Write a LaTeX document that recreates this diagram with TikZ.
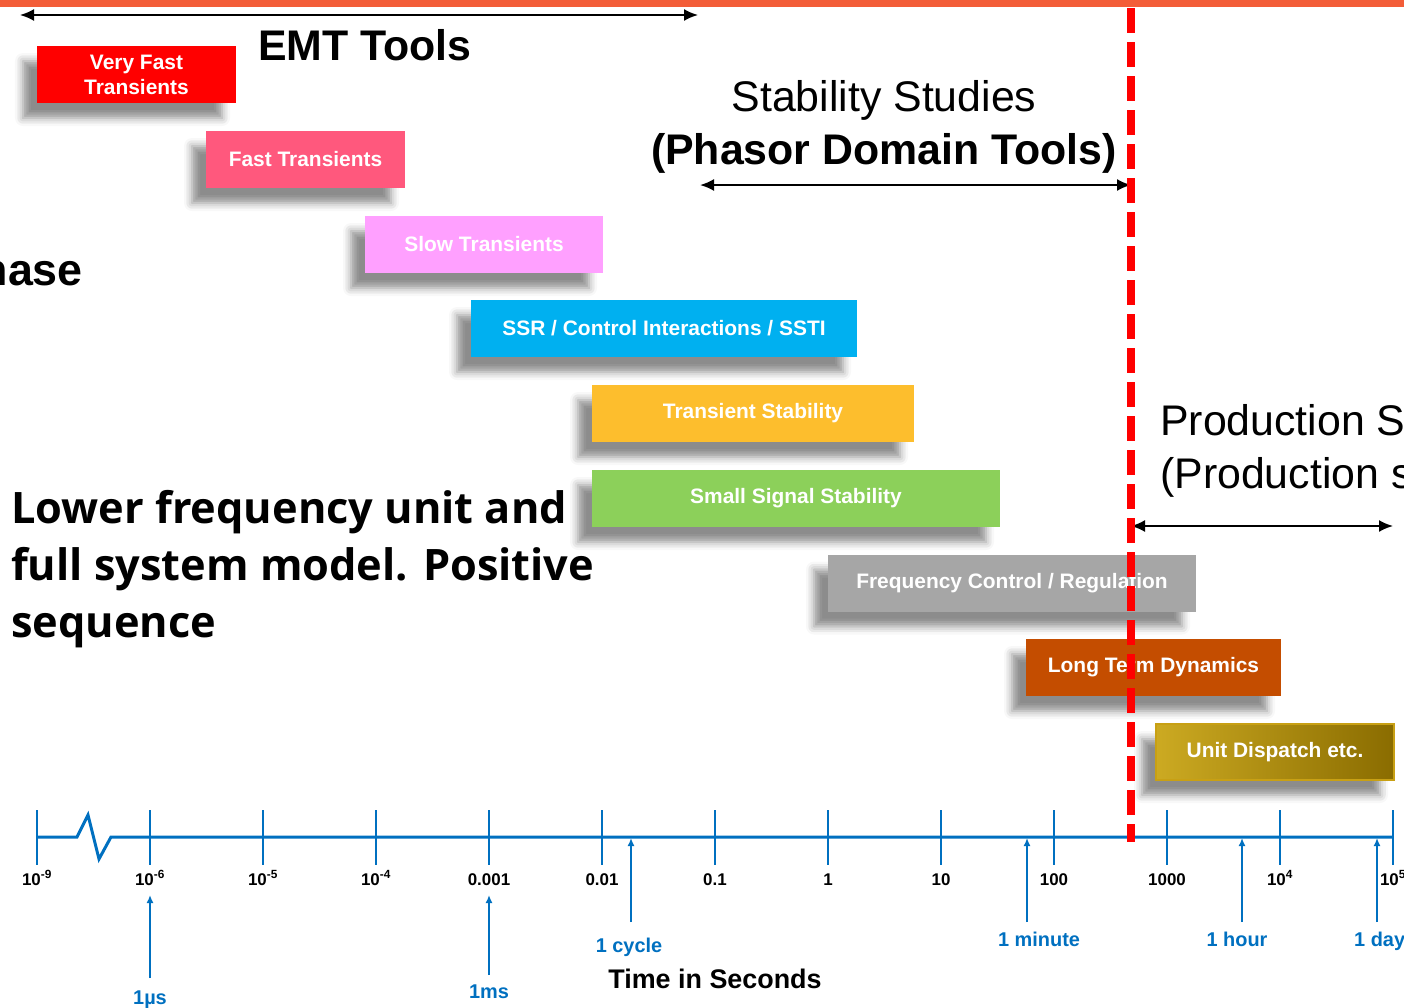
\documentclass[tikz,border=0pt]{standalone}
\usepackage{fontspec}
\setmainfont{Liberation Sans}
\newfontfamily\lowfont{Open Sans}
\usetikzlibrary{arrows.meta,shadows.blur}
\definecolor{axisblue}{RGB}{0,112,192}
\definecolor{topbar}{RGB}{243,93,56}
\definecolor{cVF}{RGB}{255,0,0}
\definecolor{cFT}{RGB}{255,88,125}
\definecolor{cST}{RGB}{255,160,255}
\definecolor{cSSR}{RGB}{0,176,240}
\definecolor{cTS}{RGB}{253,190,45}
\definecolor{cSSS}{RGB}{140,208,90}
\definecolor{cFC}{RGB}{166,166,166}
\definecolor{cLT}{RGB}{196,77,0}
\definecolor{cUDa}{RGB}{204,170,34}
\definecolor{cUDb}{RGB}{138,108,0}
\definecolor{cUDedge}{RGB}{200,160,20}
\begin{document}
\begin{tikzpicture}[x=1bp,y=-1bp,
  bar/.style={minimum height=57bp, inner sep=0pt, text=white, align=center,
    font=\fontsize{21}{25}\selectfont\bfseries,
    blur shadow={shadow xshift=-14bp, shadow yshift=-15bp, shadow blur radius=8bp, shadow opacity=45}},
  big/.style={inner sep=0pt, font=\fontsize{43}{53}\selectfont},
  lowtxt/.style={inner sep=0pt, anchor=base west, font=\lowfont\bfseries\fontsize{43.5}{57}\selectfont},
  ticklbl/.style={inner sep=0pt, anchor=base, font=\fontsize{17}{20}\selectfont\bfseries},
  bluelbl/.style={inner sep=0pt, anchor=base, text=axisblue, font=\fontsize{20}{24}\selectfont\bfseries},
  span/.style={{Latex[length=14bp,width=12bp]}-{Latex[length=14bp,width=12bp]}, line width=2bp, black},
  marker/.style={-{Latex[length=8bp,width=7bp]}, line width=2bp, axisblue},
  axisline/.style={line width=3bp, axisblue, line join=miter},
  tick/.style={line width=2.5bp, axisblue},
  divider/.style={line width=8bp, red, dash pattern=on 25bp off 9bp}
]
\useasboundingbox (0,0) rectangle (1404,1007);
\clip (0,0) rectangle (1404,1007);
\fill[topbar] (0,0) rectangle (1404,6.5);

% boxes
\node[bar, fill=cVF, minimum width=199bp] (vf) at (136.5,74.5) {Very Fast\\Transients};
\node[bar, fill=cFT, minimum width=199bp] (ft) at (305.5,159.5) {Fast Transients};
\node[bar, fill=cST, minimum width=238bp] (st) at (484,244.5) {Slow Transients};
\node[bar, fill=cSSR, minimum width=386bp] (ssr) at (664,328.5) {SSR / Control Interactions / SSTI};
\node[bar, fill=cTS, minimum width=322bp] (ts) at (753,413.5) {Transient Stability};
\node[bar, fill=cSSS, minimum width=408bp] (sss) at (796,498.5) {Small Signal Stability};
\node[bar, fill=cFC, minimum width=368bp] (fc) at (1012,583) {Frequency Control / Regulation};
\node[bar, fill=cLT, minimum width=255bp] (lt) at (1153.5,667.5) {Long Term Dynamics};
\node[bar, left color=cUDa, right color=cUDb, draw=cUDedge, line width=1.5bp, minimum width=238bp, minimum height=56bp] (ud) at (1275,752) {Unit Dispatch etc.};

% headings
\node[big, anchor=base west, font=\fontsize{43}{53}\selectfont\bfseries] (emt) at (258,60) {EMT Tools};
\node[big, anchor=base] (stab1) at (884,111) {Stability Studies};
\node[big, anchor=base, font=\fontsize{43}{53}\selectfont\bfseries] (stab2) at (884,164) {(Phasor Domain Tools)};
\node[big, anchor=base west] (prod1) at (1160,435) {Production S};
\node[big, anchor=base west] (prod2) at (1160,488) {(Production s};
\node[big, anchor=base east, font=\fontsize{45}{53}\selectfont\bfseries] (hase) at (83,285) {hase};
\node[lowtxt] (low1) at (11,523) {Lower frequency unit and};
\node[lowtxt] (low2) at (11,580) {full system model. Positive};
\node[lowtxt] (low3) at (11,637) {sequence};

% range arrows
\coordinate (emtL) at (20,15);
\coordinate (emtR) at (698,15);
\draw[span] (emtL) -- (emtR);
\coordinate (phL) at (700,185);
\coordinate (phR) at (1131,185);
\draw[span] (phL) -- (phR);
\coordinate (prL) at (1131,526);
\coordinate (prR) at (1393,526);
\draw[span] (prL) -- (prR);

% axis
\draw[axisline] (37,837) -- (77,837) -- (88,815) -- (99,859) -- (111,837) -- (1393,837);
\foreach \x in {37,150,263,376,489,602,715,828,941,1054,1167,1280,1393}
  \draw[tick] (\x,810) -- (\x,865);
\node[ticklbl] (t0) at (37,885) {10\textsuperscript{-9}};
\node[ticklbl] (t1) at (150,885) {10\textsuperscript{-6}};
\node[ticklbl] (t2) at (263,885) {10\textsuperscript{-5}};
\node[ticklbl] (t3) at (376,885) {10\textsuperscript{-4}};
\node[ticklbl] (t4) at (489,885) {0.001};
\node[ticklbl] (t5) at (602,885) {0.01};
\node[ticklbl] (t6) at (715,885) {0.1};
\node[ticklbl] (t7) at (828,885) {1};
\node[ticklbl] (t8) at (941,885) {10};
\node[ticklbl] (t9) at (1054,885) {100};
\node[ticklbl] (t10) at (1167,885) {1000};
\node[ticklbl] (t11) at (1280,885) {10\textsuperscript{4}};
\node[ticklbl] (t12) at (1393,885) {10\textsuperscript{5}};

% time markers
\node[bluelbl] (us) at (150,1004) {1µs};
\node[bluelbl] (ms) at (489,998) {1ms};
\node[bluelbl] (cyc) at (629,952) {1 cycle};
\node[bluelbl] (min) at (1039,946) {1 minute};
\node[bluelbl] (hr) at (1237,946) {1 hour};
\node[bluelbl, anchor=base west] (day) at (1354,946) {1 day};
\coordinate (usA) at (150,978);  \coordinate (usB) at (150,895);
\coordinate (msA) at (489,975);  \coordinate (msB) at (489,895);
\coordinate (cyA) at (631,922);  \coordinate (cyB) at (631,838);
\coordinate (miA) at (1027,922); \coordinate (miB) at (1027,838);
\coordinate (hrA) at (1242,922); \coordinate (hrB) at (1242,838);
\coordinate (dyA) at (1377,922); \coordinate (dyB) at (1377,838);
\draw[marker] (usA) -- (usB);
\draw[marker] (msA) -- (msB);
\draw[marker] (cyA) -- (cyB);
\draw[marker] (miA) -- (miB);
\draw[marker] (hrA) -- (hrB);
\draw[marker] (dyA) -- (dyB);
\node[inner sep=0pt, anchor=base, font=\fontsize{27}{30}\selectfont\bfseries] (tis) at (715,988) {Time in Seconds};

% divider
\coordinate (dvT) at (1131,8);
\coordinate (dvB) at (1131,842);
\draw[divider] (dvT) -- (dvB);
\end{tikzpicture}
\end{document}
